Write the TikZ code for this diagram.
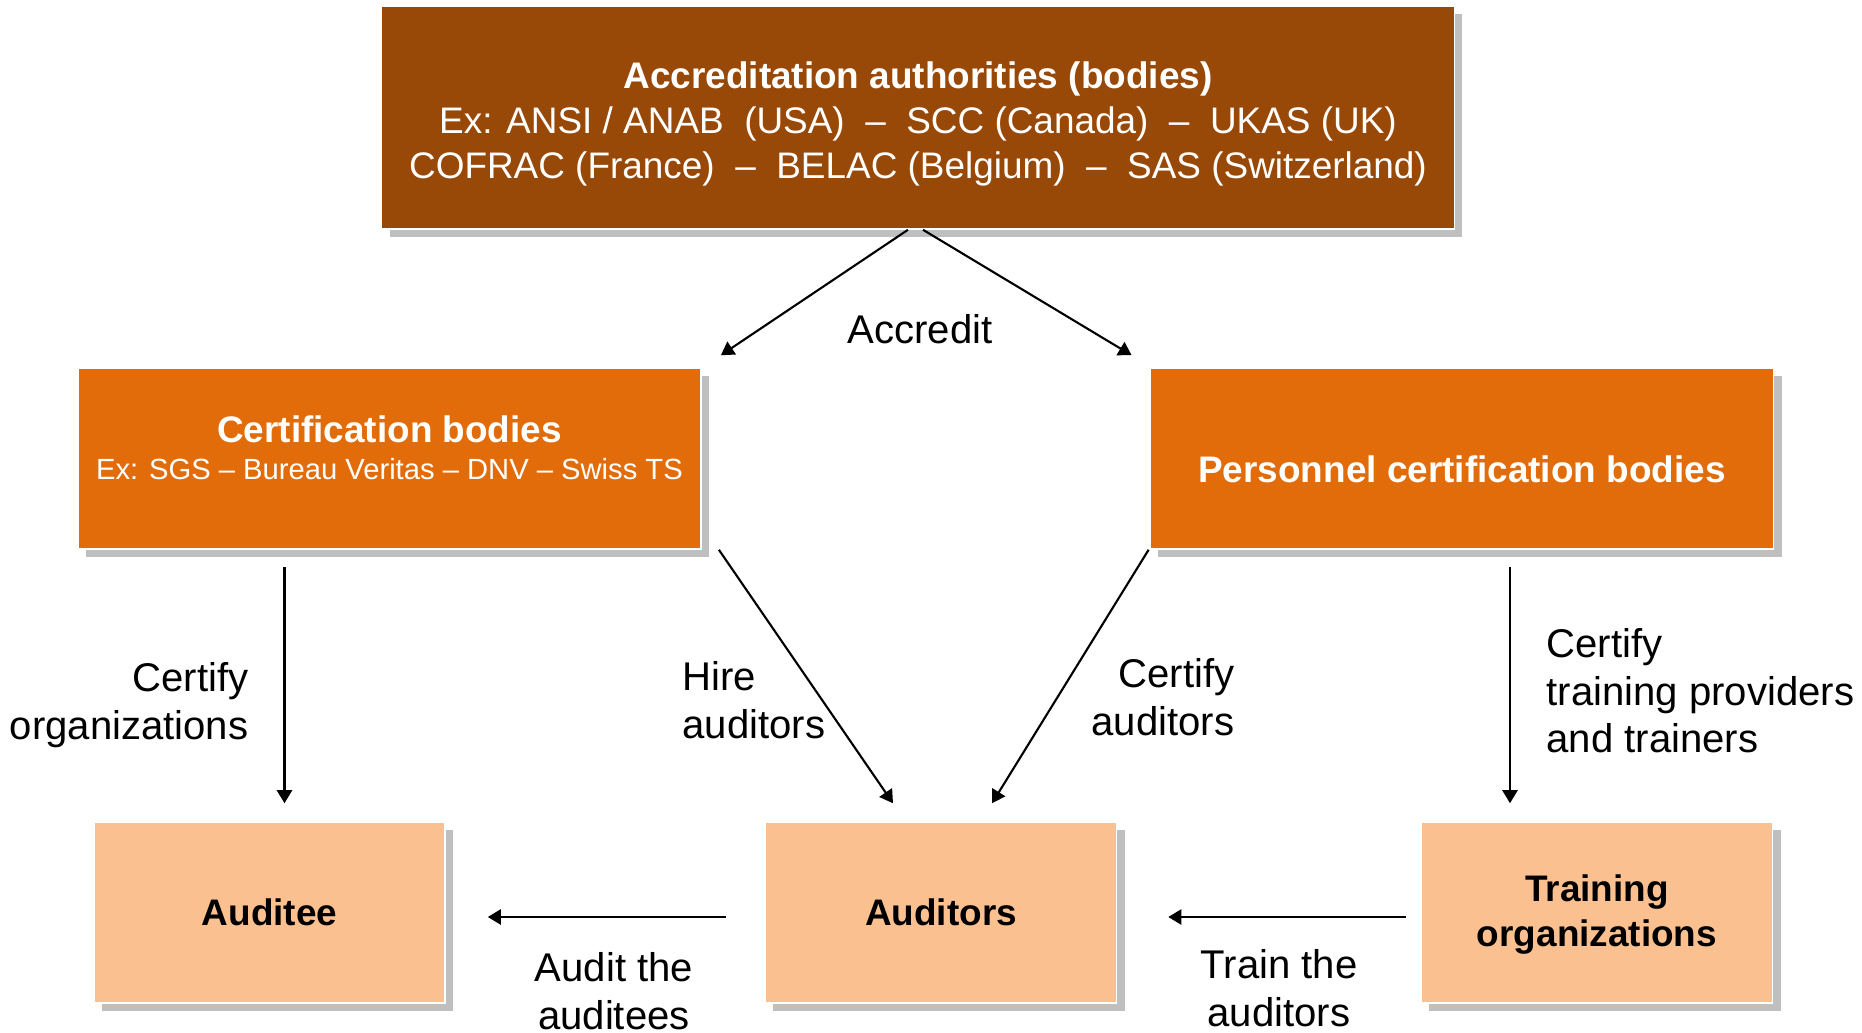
\documentclass[tikz,border=0pt]{standalone}
\usepackage{fontspec}
\setmainfont{Liberation Sans}
\usepackage{tikz}
\usetikzlibrary{shapes,arrows.meta,shadows}
\usepackage{xcolor}
\definecolor{brownbox}{RGB}{152,72,7}
\definecolor{orangebox}{RGB}{227,108,10}
\definecolor{peachbox}{RGB}{250,192,144}
\tikzset{
  box/.style={rectangle, draw=white, line width=0.4pt, align=center,
    drop shadow={shadow xshift=2.3pt, shadow yshift=-2.3pt, fill=black!25, opacity=1}},
  topbox/.style={box, fill=brownbox, text=white, minimum width=107.2mm, minimum height=22.3mm,
    font=\fontsize{10.5}{12.8}\selectfont},
  midbox/.style={box, fill=orangebox, text=white, minimum width=62.3mm, minimum height=18.1mm,
    font=\fontsize{10.5}{12.8}\selectfont\bfseries},
  lowbox/.style={box, fill=peachbox, text=black, minimum width=35.1mm, minimum height=18.1mm,
    font=\fontsize{10.5}{12.8}\selectfont\bfseries},
  lbl/.style={font=\fontsize{11.4}{13.5}\selectfont, inner sep=0pt},
  arr/.style={-{Triangle[length=3.7pt,width=4.3pt]}, line width=0.6pt}
}
\begin{document}
\begin{tikzpicture}[x=0.01cm,y=-0.01cm]
        \useasboundingbox (0,0) rectangle (1862,1033);
        % boxes
        \node[topbox] (acc) at (918,117.5) {\rule{0pt}{11pt}\textbf{Accreditation authorities (bodies)}\\
          Ex: ANSI / ANAB\ \ (USA)\ \ --\ \ SCC (Canada)\ \ --\ \ UKAS (UK)\\
          COFRAC (France)\ \ --\ \ BELAC (Belgium)\ \ --\ \ SAS (Switzerland)};
        \node[midbox] (cb) at (389.5,458.5) {Certification bodies\\[-2.4pt]
          {\fontsize{8.3}{10}\selectfont\mdseries Ex: SGS -- Bureau Veritas -- DNV -- Swiss TS\rule[-6.2pt]{0pt}{0pt}}};
        \node[midbox] (pcb) at (1462,458.5) {\rule{0pt}{14pt}Personnel certification bodies};
        \node[lowbox] (aee) at (269.5,912.5) {Auditee};
        \node[lowbox] (aus) at (941,912.5) {Auditors};
        \node[lowbox] (tro) at (1597,912.5) {\rule{0pt}{9pt}Training\\organizations};
        % connectors
        \draw[arr] ([shift={(-10,0)}]acc.south) -- ([shift={(19,-12)}]cb.north east);
        \draw[arr] ([shift={(5,0)}]acc.south) -- ([shift={(-18,-12)}]pcb.north west);
        \draw[arr] ([shift={(15,17)}]aee.north |- cb.south) -- ([shift={(15,-18)}]aee.north);
        \draw[arr] ([shift={(17,0)}]cb.south east) -- ([shift={(-48,-18)}]aus.north);
        \draw[arr] ([shift={(-1,0)}]pcb.south west) -- ([shift={(51,-18)}]aus.north);
        \draw[arr] ([shift={(-87,17)}]tro.north |- pcb.south) -- ([shift={(-87,-18)}]tro.north);
        \draw[arr] ([shift={(-39,4.5)}]aus.west) -- ([shift={(42,4.5)}]aee.east);
        \draw[arr] ([shift={(-15,4.5)}]tro.west) -- ([shift={(51,4.5)}]aus.east);
        % labels
        \node[lbl] (accredit) at (920,329) {Accredit};
        \node[lbl, align=right, anchor=east] (certorg) at (249,705) {Certify\\organizations};
        \node[lbl, align=left, anchor=west] (hire) at (682,700) {Hire\\auditors};
        \node[lbl, align=right, anchor=east] (certaud) at (1235,697) {Certify\\auditors};
        \node[lbl, align=left, anchor=west] (certtrain) at (1546,691) {Certify\\training providers\\and trainers};
        \node[lbl, align=center] (audit) at (614,991) {Audit the\\auditees};
        \node[lbl, align=center] (train) at (1279,988) {Train the\\auditors};
\end{tikzpicture}
\end{document}
